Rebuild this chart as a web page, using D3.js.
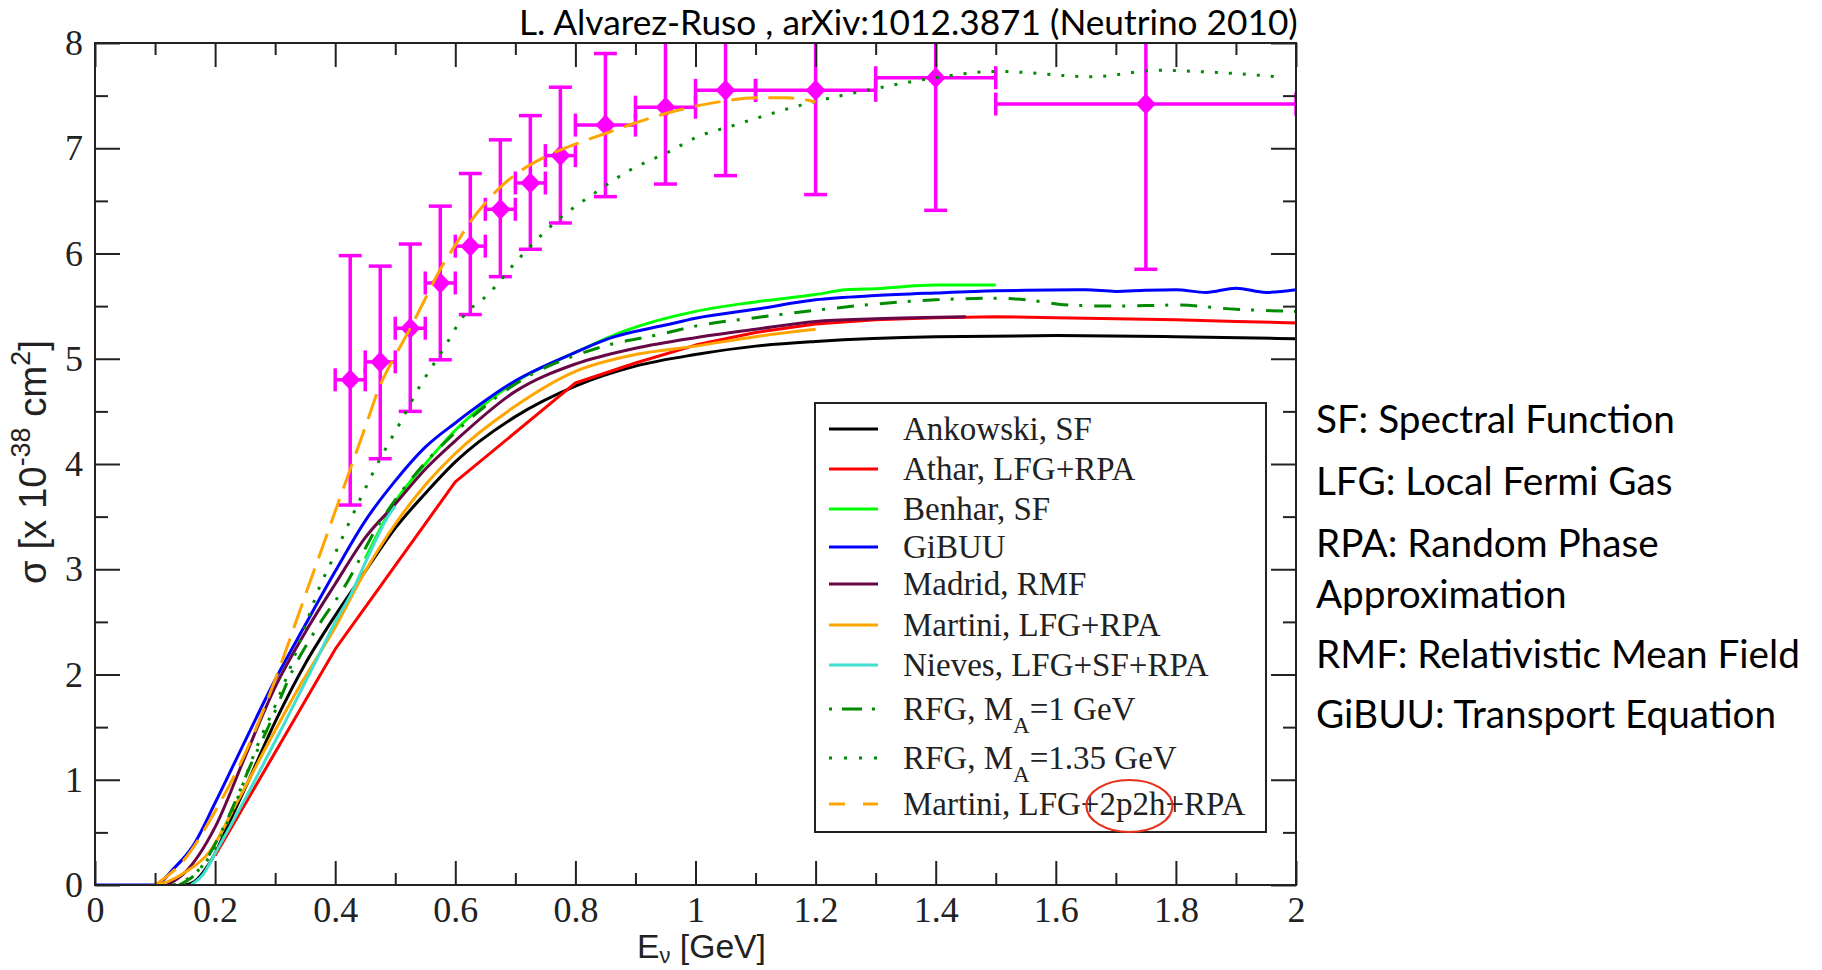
<!DOCTYPE html>
<html><head><meta charset="utf-8">
<script src="https://cdn.jsdelivr.net/npm/d3@7"></script>
<style>body{margin:0;background:#fff;} svg{display:block;}</style>
</head><body>
<svg id="chart" width="1822" height="970"></svg>
<script>
// ---------------- data ----------------
const titleText = "L. Alvarez-Ruso , arXiv:1012.3871 (Neutrino 2010)";
const notes = ["SF: Spectral Function","LFG: Local Fermi Gas","RPA: Random Phase","Approximation","RMF: Relativistic Mean Field","GiBUU: Transport Equation"];

const xTicks = [0,0.2,0.4,0.6,0.8,1,1.2,1.4,1.6,1.8,2];
const xTickLabels = ["0","0.2","0.4","0.6","0.8","1","1.2","1.4","1.6","1.8","2"];
const xMinorTicks = [0.1,0.3,0.5,0.7,0.9,1.1,1.3,1.5,1.7,1.9];
const yTicks = [0,1,2,3,4,5,6,7,8];
const yTickLabels = ["0","1","2","3","4","5","6","7","8"];
const yMinorTicks = [0.5,1.5,2.5,3.5,4.5,5.5,6.5,7.5];

const seriesNames = ["Ankowski, SF","Athar, LFG+RPA","Benhar, SF","GiBUU","Madrid, RMF","Martini, LFG+RPA","Nieves, LFG+SF+RPA","RFG, M|A|=1 GeV","RFG, M|A|=1.35 GeV","Martini, LFG+2p2h+RPA"];

const ankowski = [[0.15,0],[0.165,0.03],[0.18,0.12],[0.2,0.3],[0.22,0.55],[0.25,0.92],[0.3,1.55],[0.35,2.1],[0.4,2.56],[0.45,2.98],[0.5,3.39],[0.55,3.72],[0.6,4.02],[0.7,4.45],[0.8,4.74],[0.9,4.93],[1.0,5.04],[1.1,5.12],[1.2,5.165],[1.4,5.21],[1.6,5.22],[1.8,5.21],[2.0,5.19]];
const athar = [[0.2,0.28],[0.4,2.24],[0.6,3.83],[0.8,4.77],[0.9,4.96],[1.0,5.13],[1.1,5.25],[1.2,5.33],[1.3,5.37],[1.4,5.39],[1.5,5.40],[1.6,5.39],[1.7,5.38],[1.8,5.37],[1.9,5.355],[2.0,5.34]];
const benhar = [[0.45,3.1],[0.5,3.64],[0.55,4.0],[0.6,4.32],[0.7,4.78],[0.8,5.06],[0.88,5.26],[1.0,5.45],[1.1,5.54],[1.2,5.61],[1.25,5.655],[1.3,5.665],[1.4,5.70],[1.5,5.70]];
const gibuu = [[0,0],[0.1,0],[0.13,0.15],[0.163,0.37],[0.2,0.78],[0.25,1.37],[0.3,1.95],[0.35,2.47],[0.4,2.98],[0.45,3.46],[0.5,3.84],[0.55,4.16],[0.6,4.39],[0.7,4.79],[0.8,5.06],[0.86,5.2],[0.95,5.32],[1.0,5.385],[1.1,5.47],[1.2,5.56],[1.3,5.60],[1.4,5.625],[1.5,5.645],[1.55,5.65],[1.65,5.655],[1.7,5.64],[1.75,5.65],[1.8,5.655],[1.85,5.63],[1.9,5.67],[1.95,5.63],[2.0,5.655]];
const madrid = [[0.12,0],[0.15,0.12],[0.2,0.55],[0.25,1.22],[0.3,1.88],[0.35,2.4],[0.4,2.86],[0.45,3.3],[0.5,3.62],[0.55,3.95],[0.6,4.22],[0.7,4.69],[0.8,4.95],[0.9,5.1],[1.0,5.2],[1.1,5.28],[1.2,5.355],[1.3,5.38],[1.45,5.40]];
const martini = [[0.1,0],[0.12,0.03],[0.15,0.12],[0.19,0.31],[0.236,0.78],[0.286,1.32],[0.341,1.89],[0.4,2.45],[0.45,2.98],[0.5,3.43],[0.55,3.8],[0.6,4.1],[0.7,4.55],[0.8,4.88],[0.9,5.04],[1.0,5.12],[1.1,5.21],[1.2,5.28]];
const nieves = [[0.16,0],[0.18,0.1],[0.2,0.3],[0.252,0.84],[0.313,1.51],[0.369,2.14],[0.402,2.52],[0.425,2.75],[0.45,3.06],[0.49,3.52],[0.5,3.6]];
const rfg1 = [[0.14,0],[0.17,0.12],[0.22,0.62],[0.26,1.15],[0.29,1.52],[0.33,2.05],[0.375,2.49],[0.413,2.81],[0.474,3.44],[0.53,3.88],[0.6,4.3],[0.7,4.76],[0.836,5.1],[0.947,5.24],[1.0,5.31],[1.1,5.39],[1.2,5.46],[1.3,5.52],[1.4,5.56],[1.5,5.575],[1.55,5.56],[1.62,5.51],[1.7,5.50],[1.8,5.51],[1.9,5.47],[2.0,5.45]];
const rfg135 = [[0.13,0],[0.16,0.08],[0.202,0.37],[0.23,0.72],[0.2745,1.38],[0.302,1.73],[0.33,2.14],[0.352,2.49],[0.3745,2.84],[0.391,3.04],[0.441,3.66],[0.474,4.04],[0.508,4.39],[0.541,4.74],[0.58,5.09],[0.613,5.40],[0.656,5.62],[0.704,5.94],[0.771,6.32],[0.831,6.57],[0.89,6.79],[0.957,6.97],[1.0,7.10],[1.065,7.22],[1.176,7.41],[1.302,7.57],[1.4,7.67],[1.503,7.73],[1.66,7.68],[1.771,7.74],[1.868,7.72],[1.968,7.68]];
const martini2p2h = [[0.1,0],[0.15,0.25],[0.2,0.7],[0.25,1.25],[0.3,1.95],[0.35,2.75],[0.4,3.55],[0.425,3.95],[0.45,4.35],[0.475,4.75],[0.5,5.03],[0.525,5.29],[0.55,5.57],[0.575,5.85],[0.6,6.08],[0.625,6.3],[0.65,6.48],[0.675,6.63],[0.7,6.75],[0.75,6.92],[0.8,7.04],[0.85,7.14],[0.9,7.24],[0.95,7.33],[1.0,7.40],[1.05,7.45],[1.1,7.48],[1.15,7.48],[1.2,7.44]];

const dataE = [0.425,0.475,0.525,0.575,0.625,0.675,0.725,0.775,0.85,0.95,1.05,1.2,1.4,1.75];
const dataSigma = [4.80,4.97,5.29,5.72,6.07,6.42,6.67,6.93,7.22,7.39,7.55,7.55,7.67,7.42];
const dataELow = [0.4,0.45,0.5,0.55,0.6,0.65,0.7,0.75,0.8,0.9,1.0,1.1,1.3,1.5];
const dataEHigh = [0.45,0.5,0.55,0.6,0.65,0.7,0.75,0.8,0.9,1.0,1.1,1.3,1.5,2.0];
const dataSigmaLow = [3.61,4.05,4.50,4.99,5.42,5.78,6.04,6.29,6.54,6.66,6.74,6.56,6.41,5.85];
const dataSigmaHigh = [5.98,5.88,6.09,6.45,6.76,7.08,7.31,7.58,7.90,8.15,8.35,8.55,8.95,9.0];

// ---------------- styles ----------------
const seriesData = [ankowski,athar,benhar,gibuu,madrid,martini,nieves,rfg1,rfg135,martini2p2h];
const seriesColors = ["#000000","#ff0000","#00ff00","#0000ff","#670748","#ffa500","#40e0d0","#008b00","#008b00","#ffa500"];
const seriesDash = [null,null,null,null,null,null,null,"17,11,3,12","3,11","26,11"];
const legendDash = [null,null,null,null,null,null,null,"3,10,20,10,3","3,12","16,18"];
const seriesCurve = [d3.curveMonotoneX,d3.curveLinear,d3.curveMonotoneX,d3.curveMonotoneX,d3.curveMonotoneX,d3.curveMonotoneX,d3.curveMonotoneX,d3.curveMonotoneX,d3.curveMonotoneX,d3.curveMonotoneX];

const svg = d3.select("#chart");
const x = d3.scaleLinear().domain([0,2]).range([95,1296]);
const y = d3.scaleLinear().domain([0,8]).range([885,43]);
const axisColor = "#222";

function fit(sel, target){
  const w = sel.node().getComputedTextLength();
  const fs = parseFloat(sel.attr("font-size"));
  sel.attr("font-size", fs*target/w);
}

// clip
svg.append("clipPath").attr("id","plotclip").append("rect")
  .attr("x",x(0)).attr("y",y(8)).attr("width",x(2)-x(0)).attr("height",y(0)-y(8));
const plot = svg.append("g").attr("clip-path","url(#plotclip)");

// data points (magenta)
const mag = "#ff00ff";
const pts = plot.append("g").attr("stroke",mag).attr("stroke-width",3.5).attr("fill",mag);
dataE.forEach((e,i)=>{
  const cx = x(e), cy = y(dataSigma[i]);
  const g = pts.append("g");
  g.append("line").attr("x1",cx).attr("x2",cx).attr("y1",y(dataSigmaLow[i])).attr("y2",y(dataSigmaHigh[i]));
  g.append("line").attr("x1",cx-11.5).attr("x2",cx+11.5).attr("y1",y(dataSigmaLow[i])).attr("y2",y(dataSigmaLow[i]));
  g.append("line").attr("x1",cx-11.5).attr("x2",cx+11.5).attr("y1",y(dataSigmaHigh[i])).attr("y2",y(dataSigmaHigh[i]));
  g.append("line").attr("x1",x(dataELow[i])).attr("x2",x(dataEHigh[i])).attr("y1",cy).attr("y2",cy);
  g.append("line").attr("x1",x(dataELow[i])).attr("x2",x(dataELow[i])).attr("y1",cy-11.5).attr("y2",cy+11.5);
  g.append("line").attr("x1",x(dataEHigh[i])).attr("x2",x(dataEHigh[i])).attr("y1",cy-11.5).attr("y2",cy+11.5);
  g.append("path").attr("stroke","none")
    .attr("d",`M${cx},${cy-10.5}L${cx+10},${cy}L${cx},${cy+10.5}L${cx-10},${cy}Z`);
});

// curves
seriesData.forEach((d,i)=>{
  const line = d3.line().x(p=>x(p[0])).y(p=>y(p[1])).curve(seriesCurve[i]);
  plot.append("path").datum(d).attr("d",line).attr("fill","none")
    .attr("stroke",seriesColors[i]).attr("stroke-width",3)
    .attr("stroke-dasharray",seriesDash[i]).attr("stroke-linejoin","round");
});

// axes
function styleAxis(g){
  g.select(".domain").remove();
  g.selectAll(".tick line").attr("stroke",axisColor).attr("stroke-width",2);
  g.selectAll("text").attr("fill",axisColor);
  g.attr("font-family","'Liberation Serif', 'Times New Roman', serif").attr("font-size",36);
}
svg.append("g").attr("transform",`translate(0,${y(0)})`)
  .call(d3.axisBottom(x).tickValues(xTicks).tickFormat((d,i)=>xTickLabels[i]).tickSize(-24).tickPadding(11)).call(styleAxis);
svg.append("g").attr("transform",`translate(0,${y(0)})`)
  .call(d3.axisBottom(x).tickValues(xMinorTicks).tickFormat("").tickSize(-12)).call(styleAxis);
svg.append("g").attr("transform",`translate(0,${y(8)})`)
  .call(d3.axisTop(x).tickValues(xTicks).tickFormat("").tickSize(-24)).call(styleAxis);
svg.append("g").attr("transform",`translate(0,${y(8)})`)
  .call(d3.axisTop(x).tickValues(xMinorTicks).tickFormat("").tickSize(-12)).call(styleAxis);
svg.append("g").attr("transform",`translate(${x(0)},0)`)
  .call(d3.axisLeft(y).tickValues(yTicks).tickFormat((d,i)=>yTickLabels[i]).tickSize(-25).tickPadding(12)).call(styleAxis);
svg.append("g").attr("transform",`translate(${x(0)},0)`)
  .call(d3.axisLeft(y).tickValues(yMinorTicks).tickFormat("").tickSize(-13)).call(styleAxis);
svg.append("g").attr("transform",`translate(${x(2)},0)`)
  .call(d3.axisRight(y).tickValues(yTicks).tickFormat("").tickSize(-25)).call(styleAxis);
svg.append("g").attr("transform",`translate(${x(2)},0)`)
  .call(d3.axisRight(y).tickValues(yMinorTicks).tickFormat("").tickSize(-13)).call(styleAxis);

svg.append("rect").attr("x",x(0)).attr("y",y(8)).attr("width",x(2)-x(0)).attr("height",y(0)-y(8))
  .attr("fill","none").attr("stroke",axisColor).attr("stroke-width",2);

// axis labels
const xl = svg.append("text").attr("x",637).attr("y",958)
  .attr("font-family","'Liberation Sans', Arial, sans-serif").attr("font-size",32).attr("fill","#222");
xl.append("tspan").text("E");
xl.append("tspan").attr("font-size","65%").attr("dy","0.25em").text("ν");
xl.append("tspan").attr("dy","-0.16em").text(" [GeV]");
fit(xl,129);

const yl = svg.append("text").attr("transform","translate(46,462) rotate(-90)").attr("text-anchor","middle")
  .attr("font-family","'Liberation Sans', Arial, sans-serif").attr("font-size",30).attr("fill","#222");
yl.append("tspan").text("σ [x 10");
yl.append("tspan").attr("font-size","70%").attr("dy","-0.6em").text("-38");
yl.append("tspan").attr("dy","0.42em").text(" cm");
yl.append("tspan").attr("font-size","70%").attr("dy","-0.6em").text("2");
yl.append("tspan").attr("dy","0.42em").text("]");
fit(yl,244);

// legend
const lg = svg.append("g");
lg.append("rect").attr("x",815).attr("y",403).attr("width",451).attr("height",429)
  .attr("fill","#fff").attr("stroke",axisColor).attr("stroke-width",2);
const rowOffsets = [0,40,80,118,155,196,236,280,329,375];
let ellipseText = null;
seriesNames.forEach((name,i)=>{
  const ry = 429 + rowOffsets[i];
  lg.append("line").attr("x1",829).attr("x2",878).attr("y1",ry).attr("y2",ry)
    .attr("stroke",seriesColors[i]).attr("stroke-width",3).attr("stroke-dasharray",legendDash[i]);
  const t = lg.append("text").attr("x",903).attr("y",ry+11)
    .attr("font-family","'Liberation Serif', 'Times New Roman', serif").attr("font-size",33).attr("fill","#222");
  const parts = name.split("|");
  if(parts.length===3){
    t.append("tspan").text(parts[0]);
    t.append("tspan").attr("font-size","70%").attr("dy","0.57em").text(parts[1]);
    t.append("tspan").attr("dy","-0.4em").text(parts[2]);
  } else {
    t.text(name);
  }
  if(name.indexOf("2p2h")>=0) ellipseText = t;
});
// red annotation ellipse around "2p2h"
if(ellipseText){
  const s = ellipseText.text();
  const i0 = s.indexOf("2p2h"), i1 = i0+3;
  const n = ellipseText.node();
  const a = n.getStartPositionOfChar(i0).x, b = n.getEndPositionOfChar(i1).x;
  const cy = parseFloat(ellipseText.attr("y")) - 9;
  lg.append("ellipse").attr("cx",(a+b)/2-3).attr("cy",cy).attr("rx",(b-a)/2+10).attr("ry",26)
    .attr("fill","none").attr("stroke","#e8301c").attr("stroke-width",2.2);
}

// title
const tt = svg.append("text").attr("x",519).attr("y",35).attr("font-family","Lato, 'Open Sans', sans-serif")
  .attr("font-size",32).attr("fill","#000").text(titleText);
fit(tt,779);

// notes on the right
const noteBaselines = [433,495,557,608,668,728];
const nt = svg.append("g").attr("font-family","Lato, 'Open Sans', sans-serif").attr("fill","#000");
const noteEls = notes.map((s,i)=> nt.append("text").attr("x",1316).attr("y",noteBaselines[i]).attr("font-size",34).text(s));
const ref = noteEls[4].node().getComputedTextLength();
const nfs = 34*484/ref;
noteEls.forEach(e=>e.attr("font-size",nfs));
</script>
</body></html>
